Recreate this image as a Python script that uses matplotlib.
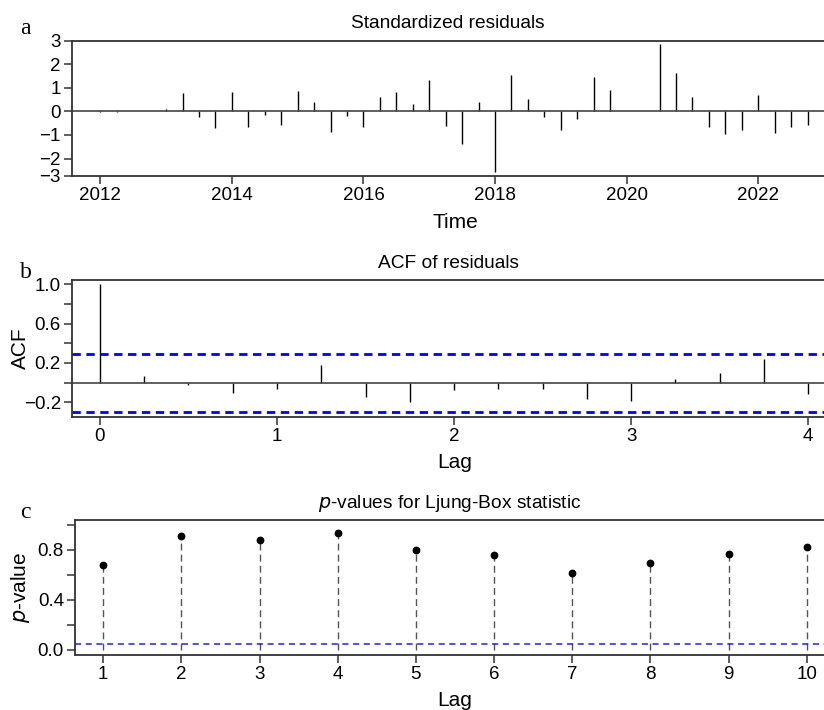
import numpy as np
import matplotlib
matplotlib.use("Agg")
import matplotlib.pyplot as plt

plt.rcParams['font.family'] = ['Liberation Sans', 'DejaVu Sans']

# standardized residuals, quarterly from 2012 Q1
start_year = 2012
resid = [-0.05, -0.01, 0.0, 0.0, 0.11, 0.76, -0.24, -0.70, 0.83, -0.67, -0.17,
         -0.59, 0.87, 0.41, -0.86, -0.21, -0.65, 0.59, 0.81, 0.31, 1.33, -0.63,
         -1.38, 0.41, -2.55, 1.55, 0.52, -0.25, -0.79, -0.31, 1.45, 0.91, 0.0,
         0.03, 2.85, 1.62, 0.60, -0.66, -0.95, -0.79, 0.69, -0.91, -0.68, -0.56]
year_ticks = [2012, 2014, 2016, 2018, 2020, 2022]

# ACF of residuals at lags 0..16 quarters (in years)
acf_vals = [1.0, 0.068, -0.027, -0.108, -0.068, 0.18, -0.142, -0.197, -0.075,
            -0.061, -0.064, -0.163, -0.183, 0.034, 0.095, 0.244, -0.115]
acf_bound = 0.2955

# Ljung-Box p-values
lb_lags = [1, 2, 3, 4, 5, 6, 7, 8, 9, 10]
lb_p = [0.68, 0.909, 0.877, 0.931, 0.795, 0.757, 0.616, 0.691, 0.765, 0.824]

W, H = 824, 710
fig = plt.figure(figsize=(W / 100, H / 100), dpi=100)

spine_col = '#333333'
tick_fs = 13.5
lab_fs = 15
title_fs = 13.8


def frame(ax):
    ax.spines['right'].set_visible(False)
    for s in ('top', 'bottom', 'left'):
        ax.spines[s].set_color(spine_col)
        ax.spines[s].set_linewidth(1.3)
    ax.tick_params(direction='out', length=6, width=1.1, colors=spine_col,
                   labelcolor='black', labelsize=tick_fs, pad=2)


def fig_rect(left, top, right, bottom):
    return [left / W, 1 - bottom / H, (right - left) / W, (bottom - top) / H]


def place_labels(ax, left, top, bottom, xlab_y, ylab_x=None):
    h = bottom - top
    ax.xaxis.set_label_coords((455 - left) / (W - left), -(xlab_y - bottom) / h)
    if ylab_x is not None:
        ax.yaxis.set_label_coords(-(left - ylab_x) / (W - left), 0.5)


# ---- a: standardized residuals
ax1 = fig.add_axes(fig_rect(72, 40.5, 824, 176))
t = start_year + np.arange(len(resid)) / 4
ax1.vlines(t, 0, resid, color='black', lw=1.0)
ax1.axhline(0, color='#444444', lw=1.2)
ax1.set_xlim(2011.57, 2023.0)
ax1.set_ylim(-2.74, 3.0)
ax1.set_xticks(year_ticks)
ax1.set_yticks([-2.74, -2, -1, 0, 1, 2, 3])
ax1.set_yticklabels(['\u22123', '\u22122', '\u22121', '0', '1', '2', '3'])
frame(ax1)
ax1.set_xlabel('Time', fontsize=lab_fs, va='center')
ax1.set_title('Standardized residuals', fontsize=title_fs, pad=9)
place_labels(ax1, 72, 40.5, 176, 222)

# ---- b: ACF of residuals
ax2 = fig.add_axes(fig_rect(72, 279.5, 824, 417))
lags = np.arange(len(acf_vals)) / 4
ax2.vlines(lags, 0, acf_vals, color='black', lw=1.0)
ax2.axhline(0, color='#444444', lw=1.2)
ax2.axhline(acf_bound, color='#0000ee', lw=2, ls=(0, (3, 2)))
ax2.axhline(-acf_bound, color='#0000ee', lw=2, ls=(0, (3, 2)))
ax2.set_xlim(-0.158, 4.09)
ax2.set_ylim(-0.35, 1.05)
ax2.set_xticks([0, 1, 2, 3, 4])
yt = [-0.2, 0.0, 0.2, 0.4, 0.6, 0.8, 1.0]
ax2.set_yticks(yt)
ax2.set_yticklabels(['\u22120.2', '', '0.2', '', '0.6', '', '1.0'])
frame(ax2)
ax2.set_xlabel('Lag', fontsize=lab_fs, va='center')
ax2.set_ylabel('ACF', fontsize=lab_fs, va='center')
ax2.set_title('ACF of residuals', fontsize=title_fs, pad=8)
place_labels(ax2, 72, 279.5, 417, 463, 20)

# ---- c: Ljung-Box p-values
ax3 = fig.add_axes(fig_rect(75, 519.5, 824, 655))
ax3.vlines(lb_lags, 0, lb_p, color='#555555', lw=1.0, ls=(0, (5, 3)))
ax3.plot(lb_lags, lb_p, 'o', color='black', ms=4.6)
ax3.axhline(0.05, color='#2222dd', lw=1.1, ls=(0, (4, 3)))
ax3.set_xlim(0.64, 10.22)
ax3.set_ylim(-0.042, 1.043)
ax3.set_xticks(lb_lags)
ax3.set_yticks([0.0, 0.2, 0.4, 0.6, 0.8, 1.0])
ax3.set_yticklabels(['0.0', '', '0.4', '', '0.8', ''])
frame(ax3)
ax3.set_xlabel('Lag', fontsize=lab_fs, va='center')
ax3.set_ylabel('$\\it{p}$-value', fontsize=lab_fs, va='center')
ax3.set_title('$\\it{p}$-values for Ljung-Box statistic', fontsize=title_fs, pad=8)
place_labels(ax3, 75, 519.5, 655, 700, 21)

# panel letters
for letter, (x, y) in zip('abc', [(20, 34), (20, 278), (20, 518)]):
    fig.text(x / W, 1 - y / H, letter, fontsize=17, family='Liberation Serif')

fig.savefig('out.png', dpi=100)
